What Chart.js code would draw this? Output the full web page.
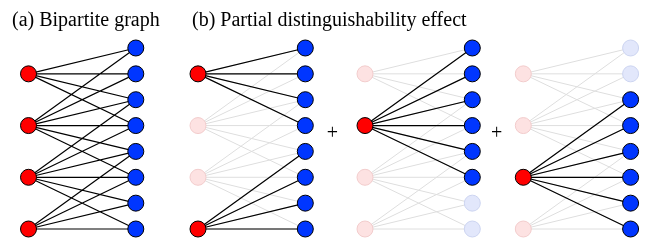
<!DOCTYPE html>
<html>
<head>
<meta charset="utf-8">
<script src="https://cdn.jsdelivr.net/npm/chart.js@4.4.1/dist/chart.umd.min.js"></script>
<style>
html, body { margin: 0; padding: 0; background: #fff; }
#wrap { width: 652px; height: 241px; }
#pre { position: absolute; left: -9999px; font-family: "Liberation Serif"; font-size: 20px; }
</style>
</head>
<body>
<div id="pre">(a) Bipartite graph +</div>
<div id="wrap"><canvas id="myChart"></canvas></div>
<script>
// graph data
var leftRows = [2, 4, 6, 8];                 // rows of the 4 left (red) nodes
var rightRows = [1, 2, 3, 4, 5, 6, 7, 8];    // rows of the 8 right (blue) nodes
var neighbours = [[1, 2, 3, 4], [1, 2, 3, 4, 5, 6], [3, 4, 5, 6, 7, 8], [5, 6, 7, 8]];
var activeLeft = [[0, 1, 2, 3], [0, 3], [1], [2]];   // panel (a), then the three terms of (b)
var titles = ['(a) Bipartite graph', '(b) Partial distinguishability effect'];
var signs = ['+', '+'];

// layout
var panelLeft = [28.5, 198, 365, 523.3];
var colGap = 107.3;
var titleX = [12, 192];
var signX = [332.3, 496.7];
var signRow = 4.33;

var RED = '#ff0000', BLUE = '#0036ff';
var RED_F = '#fde2e2', BLUE_F = '#e2e7fb';
var RED_FB = '#f2cccc', BLUE_FB = '#ccd4f0';
var FONT = '20px "Liberation Serif", "Times New Roman", serif';

var datasets = [];

panelLeft.forEach(function (x0, p) {
    var x1 = x0 + colGap;
    var act = activeLeft[p];
    var actRight = [];
    act.forEach(function (l) {
        neighbours[l].forEach(function (r) {
            if (actRight.indexOf(r) < 0) actRight.push(r);
        });
    });

    var all = [], black = [];
    neighbours.forEach(function (rs, l) {
        rs.forEach(function (r) {
            var seg = [{x: x0, y: leftRows[l]}, {x: x1, y: rightRows[r - 1]}, {x: x1, y: null}];
            all = all.concat(seg);
            if (act.indexOf(l) >= 0) black = black.concat(seg);
        });
    });
    if (p > 0) {
        // whole graph faded underneath
        datasets.push({data: all, showLine: true, borderColor: '#dedede', borderWidth: 1,
            pointRadius: 0, spanGaps: false, order: 3});
    }
    datasets.push({data: black, showLine: true, borderColor: '#000', borderWidth: 1.2,
        pointRadius: 0, spanGaps: false, order: 2});

    var full = [], fullBg = [], faded = [], fadedBg = [], fadedBd = [];
    leftRows.forEach(function (y, l) {
        if (act.indexOf(l) >= 0) { full.push({x: x0, y: y}); fullBg.push(RED); }
        else { faded.push({x: x0, y: y}); fadedBg.push(RED_F); fadedBd.push(RED_FB); }
    });
    rightRows.forEach(function (y, r) {
        if (actRight.indexOf(r + 1) >= 0) { full.push({x: x1, y: y}); fullBg.push(BLUE); }
        else { faded.push({x: x1, y: y}); fadedBg.push(BLUE_F); fadedBd.push(BLUE_FB); }
    });
    if (faded.length) {
        datasets.push({data: faded, showLine: false, pointRadius: 8, pointBorderWidth: 1,
            pointBackgroundColor: fadedBg, pointBorderColor: fadedBd, order: 1});
    }
    datasets.push({data: full, showLine: false, pointRadius: 8, pointBorderWidth: 1,
        pointBackgroundColor: fullBg, pointBorderColor: '#000', order: 0});
});

var textPlugin = {
    id: 'texts',
    afterDraw: function (chart) {
        var c = chart.ctx;
        var sx = chart.scales.x, sy = chart.scales.y;
        c.save();
        c.fillStyle = '#000';
        c.font = FONT;
        c.textBaseline = 'alphabetic';
        c.textAlign = 'left';
        titles.forEach(function (t, i) { c.fillText(t, titleX[i], 26); });
        c.textAlign = 'center';
        c.textBaseline = 'middle';
        signs.forEach(function (s, i) {
            c.fillText(s, sx.getPixelForValue(signX[i]), sy.getPixelForValue(signRow));
        });
        c.restore();
    }
};

function draw() {
    var ctx = document.getElementById('myChart').getContext('2d');
    var myChart = new Chart(ctx, {
        type: 'scatter',
        data: {datasets: datasets},
        options: {
            responsive: true,
            maintainAspectRatio: false,
            animation: false,
            events: [],
            layout: {padding: 0, autoPadding: false},
            plugins: {legend: {display: false}, tooltip: {enabled: false}},
            scales: {
                x: {type: 'linear', display: false, min: 0, max: 652},
                y: {type: 'linear', display: false, reverse: true, min: -0.856, max: 8.464}
            }
        },
        plugins: [textPlugin]
    });
}

if (document.fonts && document.fonts.load) {
    document.fonts.load(FONT).then(draw, draw);
} else {
    draw();
}
</script>
</body>
</html>
